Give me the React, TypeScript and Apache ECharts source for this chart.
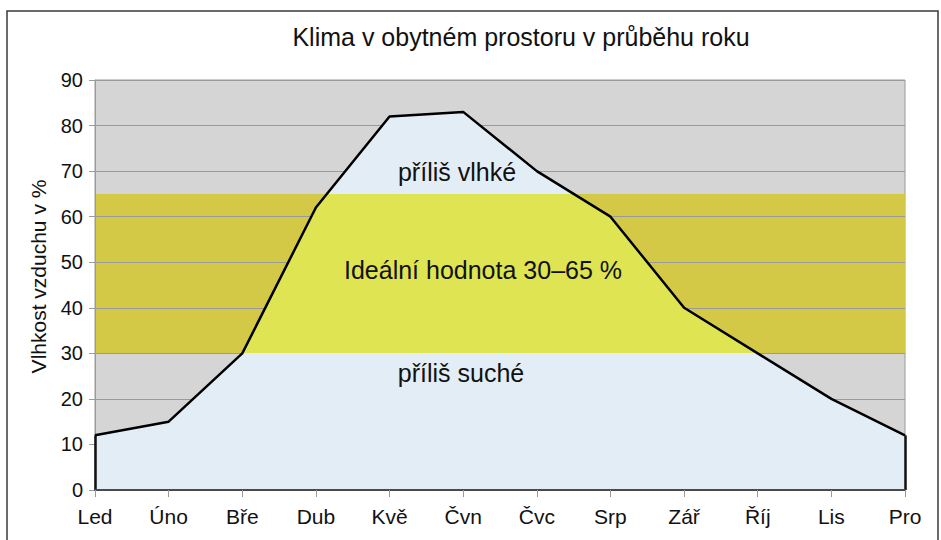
import React, { useEffect, useRef } from "react";
import * as echarts from "echarts";

const months = ["Led", "Úno", "Bře", "Dub", "Kvě", "Čvn", "Čvc", "Srp", "Zář", "Říj", "Lis", "Pro"];
const humidity = [12, 15, 30, 62, 82, 83, 70, 60, 40, 30, 20, 12];
const idealLow = 30;
const idealHigh = 65;
const yMin = 0;
const yMax = 90;
const yStep = 10;
const chartTitle = "Klima v obytném prostoru v průběhu roku";
const yAxisName = "Vlhkost vzduchu v %";
const zoneHigh = "příliš vlhké";
const zoneIdeal = "Ideální hodnota 30–65 %";
const zoneLow = "příliš suché";

const FONT = "'Liberation Sans', Arial, sans-serif";
const GRAY = "#d5d5d5";
const OLIVE = "#d3c946";
const YELLOW = "#dee452";
const BLUE = "#e3edf6";
const GRID_LINE = "#9a9a9a";
const TEXT = "#111";

export default function App() {
  const ref = useRef<HTMLDivElement>(null);

  useEffect(() => {
    if (!ref.current) return;
    const chart = echarts.init(ref.current, undefined, { renderer: "svg" });
    const bandBase = months.map(() => idealLow);
    const bandSpan = months.map(() => idealHigh - idealLow);
    const last = months.length - 1;

    chart.setOption({
      animation: false,
      textStyle: { fontFamily: FONT },
      grid: {
        left: 95,
        right: 36,
        top: 80,
        bottom: 50,
        show: true,
        backgroundColor: GRAY,
        borderColor: GRID_LINE,
        borderWidth: 1,
      },
      graphic: [
        {
          type: "rect",
          silent: true,
          shape: { x: 7, y: 11, width: 931, height: 600 },
          style: { fill: "none", stroke: "#3a3a3a", lineWidth: 1.5 },
          z: 100,
        },
        {
          type: "text",
          x: 521,
          y: 37,
          style: {
            text: chartTitle,
            font: `25px ${FONT}`,
            fill: TEXT,
            textAlign: "center",
            textVerticalAlign: "middle",
          },
          z: 100,
        },
        {
          type: "text",
          x: 457,
          y: 172,
          style: {
            text: zoneHigh,
            font: `25px ${FONT}`,
            fill: TEXT,
            textAlign: "center",
            textVerticalAlign: "middle",
          },
          z: 100,
        },
        {
          type: "text",
          x: 483,
          y: 270,
          style: {
            text: zoneIdeal,
            font: `25px ${FONT}`,
            fill: TEXT,
            textAlign: "center",
            textVerticalAlign: "middle",
          },
          z: 100,
        },
        {
          type: "text",
          x: 461,
          y: 373,
          style: {
            text: zoneLow,
            font: `25px ${FONT}`,
            fill: TEXT,
            textAlign: "center",
            textVerticalAlign: "middle",
          },
          z: 100,
        },
      ],
      visualMap: {
        show: false,
        type: "piecewise",
        seriesIndex: 2,
        dimension: 1,
        pieces: [
          { lt: idealLow, color: BLUE },
          { gte: idealLow, lte: idealHigh, color: YELLOW },
          { gt: idealHigh, color: BLUE },
        ],
      },
      xAxis: {
        type: "category",
        data: months,
        boundaryGap: false,
        z: 5,
        axisLine: { show: true, lineStyle: { color: "#4a4a4a", width: 2 } },
        axisTick: { show: true, alignWithLabel: true, length: 7, lineStyle: { color: GRID_LINE } },
        axisLabel: { color: TEXT, fontSize: 21, fontFamily: FONT, margin: 16 },
        splitLine: { show: false },
      },
      yAxis: {
        type: "value",
        min: yMin,
        max: yMax,
        interval: yStep,
        z: 2,
        name: yAxisName,
        nameLocation: "middle",
        nameGap: 46,
        nameRotate: 90,
        nameTextStyle: { color: TEXT, fontSize: 21, fontFamily: FONT, padding: [0, 0, 0, 17] },
        axisLine: { show: true, lineStyle: { color: GRID_LINE, width: 1 } },
        axisTick: { show: true, length: 6, lineStyle: { color: GRID_LINE } },
        axisLabel: { color: TEXT, fontSize: 20, fontFamily: FONT, margin: 12 },
        splitLine: { show: true, lineStyle: { color: GRID_LINE, width: 1 } },
      },
      series: [
        {
          type: "line",
          name: "band-base",
          data: bandBase,
          stack: "band",
          symbol: "none",
          z: 1,
          silent: true,
          lineStyle: { opacity: 0 },
        },
        {
          type: "line",
          name: "Ideální hodnota",
          data: bandSpan,
          stack: "band",
          symbol: "none",
          z: 1,
          silent: true,
          lineStyle: { opacity: 0 },
          areaStyle: { color: OLIVE, opacity: 1 },
        },
        {
          type: "line",
          name: "Vlhkost vzduchu",
          data: humidity,
          symbol: "none",
          z: 3,
          lineStyle: { color: "#000", width: 2.5 },
          areaStyle: { opacity: 1 },
          markLine: {
            silent: true,
            symbol: "none",
            label: { show: false },
            lineStyle: { color: "#111", width: 2.5, type: "solid" },
            data: [
              [{ coord: [months[0], yMin] }, { coord: [months[0], humidity[0]] }],
              [{ coord: [months[last], yMin] }, { coord: [months[last], humidity[last]] }],
            ],
          },
        },
      ],
    });

    return () => chart.dispose();
  }, []);

  return (
    <div
      ref={ref}
      style={{ position: "fixed", left: 0, top: 0, width: 941, height: 540, background: "#fff" }}
    />
  );
}
